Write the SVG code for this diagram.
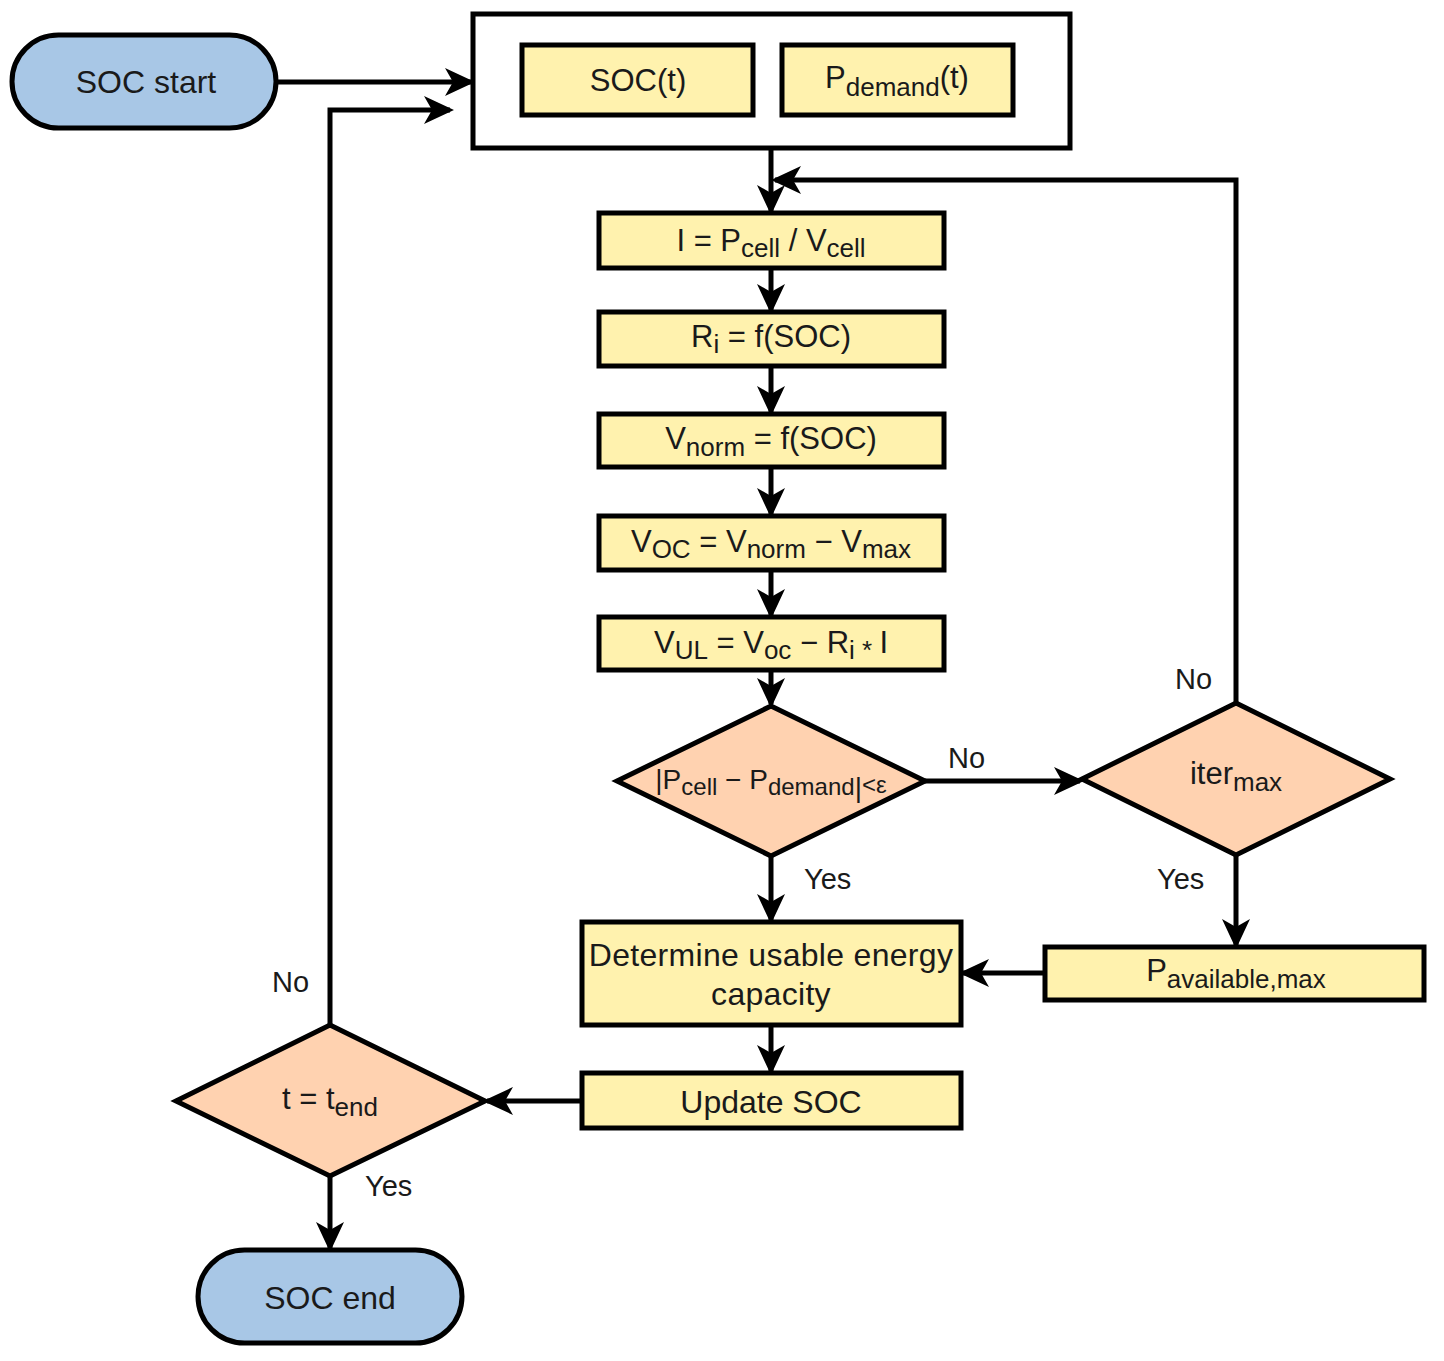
<svg xmlns="http://www.w3.org/2000/svg" width="1444" height="1361" viewBox="0 0 1444 1361">
<style>
  text { font-family: "Liberation Sans", Arial, sans-serif; fill: #1a1a1a; }
  .t { font-size: 31px; text-anchor: middle; }
  .d { font-size: 28px; text-anchor: middle; }
  .lbl { font-size: 29px; }
  .sub { font-size: 26px; }
  .sub2 { font-size: 24px; }
  .term { fill: #A8C7E6; stroke: #000; stroke-width: 5; }
  .proc { fill: #FFF2AE; stroke: #000; stroke-width: 5; }
  .dec { fill: #FFD2B0; stroke: #000; stroke-width: 5; stroke-linejoin: miter; }
  .frame { fill: #fff; stroke: #000; stroke-width: 5; }
  .ln { fill: none; stroke: #000; stroke-width: 5; marker-end: url(#ah); }
</style>
<defs>
  <marker id="ah" markerUnits="userSpaceOnUse" markerWidth="30" markerHeight="30" viewBox="0 0 30 30" refX="26" refY="15" orient="auto">
    <path d="M0,1 L30,15 L0,29 L8,15 Z" fill="#000"/>
  </marker>
</defs>
<rect width="1444" height="1361" fill="#fff"/>

<g id="connectors">
  <path class="ln" d="M276,82 L471,82"/>
  <path class="ln" d="M330,1025 L330,110 L450,110"/>
  <path class="ln" d="M771,148 L771,211"/>
  <path class="ln" d="M1236,703 L1236,180 L775,180"/>
  <path class="ln" d="M771,268 L771,310"/>
  <path class="ln" d="M771,366 L771,412"/>
  <path class="ln" d="M771,467 L771,514"/>
  <path class="ln" d="M771,570 L771,615"/>
  <path class="ln" d="M771,670 L771,704"/>
  <path class="ln" d="M925,781 L1080,781"/>
  <path class="ln" d="M771,856 L771,920"/>
  <path class="ln" d="M1236,855 L1236,945"/>
  <path class="ln" d="M1045,973 L963,973"/>
  <path class="ln" d="M771,1025 L771,1071"/>
  <path class="ln" d="M582,1101 L487,1101"/>
  <path class="ln" d="M330,1176 L330,1248"/>
  <text class="lbl" x="948" y="768">No</text>
  <text class="lbl" x="804" y="889">Yes</text>
  <text class="lbl" x="1175" y="689">No</text>
  <text class="lbl" x="1157" y="889">Yes</text>
  <text class="lbl" x="272" y="992">No</text>
  <text class="lbl" x="365" y="1196">Yes</text>
</g>

<g id="soc-start">
  <rect class="term" x="12" y="35" width="264" height="93" rx="46.5"/>
  <text class="t" x="146" y="93" style="font-size:32px">SOC start</text>
</g>

<g id="input-frame">
  <rect class="frame" x="473" y="14" width="597" height="134"/>
</g>
<g id="soc-t">
  <rect class="proc" x="522" y="45" width="231" height="70"/>
  <text class="t" x="638" y="91">SOC(t)</text>
</g>
<g id="p-demand-t">
  <rect class="proc" x="782" y="45" width="231" height="70"/>
  <text class="t" x="897" y="88">P<tspan class="sub" dy="8">demand</tspan><tspan dy="-8">(t)</tspan></text>
</g>

<g id="current">
  <rect class="proc" x="599" y="213" width="345" height="55"/>
  <text class="t" x="771" y="251">I = P<tspan class="sub" dy="6">cell</tspan><tspan dy="-6"> / V</tspan><tspan class="sub" dy="6">cell</tspan></text>
</g>
<g id="ri">
  <rect class="proc" x="599" y="312" width="345" height="54"/>
  <text class="t" x="771" y="347">R<tspan class="sub" dy="6">i</tspan><tspan dy="-6"> = f(SOC)</tspan></text>
</g>
<g id="vnorm">
  <rect class="proc" x="599" y="414" width="345" height="53"/>
  <text class="t" x="771" y="449">V<tspan class="sub" dy="7">norm</tspan><tspan dy="-7"> = f(SOC)</tspan></text>
</g>
<g id="voc">
  <rect class="proc" x="599" y="516" width="345" height="54"/>
  <text class="t" x="771" y="552">V<tspan class="sub" dy="6">OC</tspan><tspan dy="-6"> = V</tspan><tspan class="sub" dy="6">norm</tspan><tspan dy="-6"> − V</tspan><tspan class="sub" dy="6">max</tspan></text>
</g>
<g id="vul">
  <rect class="proc" x="599" y="617" width="345" height="53"/>
  <text class="t" x="771" y="653">V<tspan class="sub" dy="6">UL</tspan><tspan dy="-6"> = V</tspan><tspan class="sub" dy="6">oc</tspan><tspan dy="-6"> − R</tspan><tspan class="sub" dy="6">i * </tspan><tspan dy="-6">I</tspan></text>
</g>

<g id="power-check">
  <polygon class="dec" points="771,706 925,781 771,856 617,781"/>
  <text class="d" x="771" y="789">|P<tspan class="sub2" dy="6">cell</tspan><tspan dy="-6"> − P</tspan><tspan class="sub2" dy="6">demand</tspan><tspan dy="2">|</tspan><tspan class="sub2" dy="-4">&lt;ε</tspan></text>
</g>
<g id="iter-max">
  <polygon class="dec" points="1236,703 1390,779 1236,855 1082,779"/>
  <text class="t" x="1236" y="784">iter<tspan class="sub" dy="7">max</tspan></text>
</g>

<g id="usable-energy">
  <rect class="proc" x="582" y="922" width="379" height="103"/>
  <text class="t" x="771" y="966" style="font-size:32px;letter-spacing:0.3px">Determine usable energy</text>
  <text class="t" x="771" y="1005" style="font-size:32px;letter-spacing:0.3px">capacity</text>
</g>
<g id="p-available-max">
  <rect class="proc" x="1045" y="947" width="379" height="53"/>
  <text class="t" x="1236" y="981">P<tspan class="sub" dy="7">available,max</tspan></text>
</g>
<g id="update-soc">
  <rect class="proc" x="582" y="1073" width="379" height="55"/>
  <text class="t" x="771" y="1113" style="font-size:32px">Update SOC</text>
</g>

<g id="t-end">
  <polygon class="dec" points="330,1025 485,1101 330,1176 176,1101"/>
  <text class="t" x="330" y="1109">t = t<tspan class="sub" dy="7">end</tspan></text>
</g>

<g id="soc-end">
  <rect class="term" x="198" y="1250" width="264" height="93" rx="46.5"/>
  <text class="t" x="330" y="1309" style="font-size:32px">SOC end</text>
</g>
</svg>
